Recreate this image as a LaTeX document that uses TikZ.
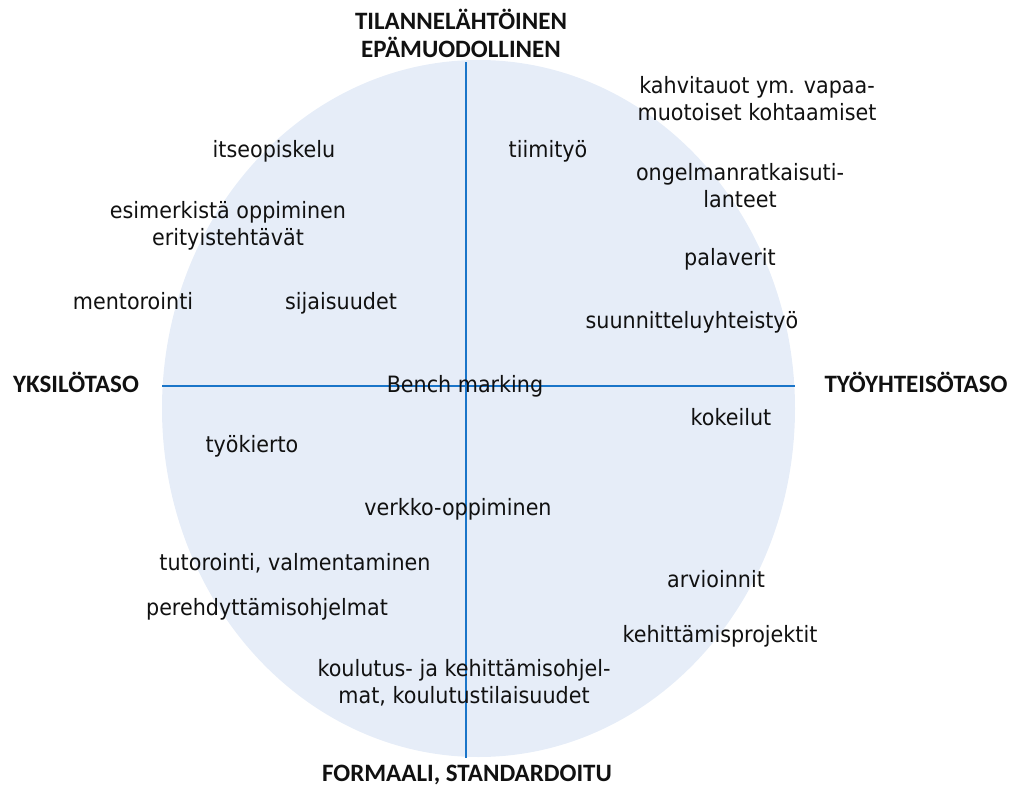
\documentclass[tikz,border=0pt]{standalone}
\usepackage{fontspec}
\setmainfont{DejaVu Sans}[FakeStretch=0.92]
\newfontfamily\headfont{Carlito}
\definecolor{discfill}{HTML}{E6EDF8}
\definecolor{axisblue}{HTML}{1A75C9}
\definecolor{labeltext}{HTML}{111111}
\newcommand{\topic}[3]{%
  \node[anchor=base, align=center, inner sep=0pt, text=labeltext] (#1) at (#2) {#3};}
\newcommand{\pole}[3]{%
  \node[anchor=base, align=center, inner sep=0pt, text=labeltext,
        font=\headfont\bfseries\fontsize{25}{28}\selectfont] (#1) at (#2) {#3};}

\begin{document}
\begin{tikzpicture}[x=1pt, y=-1pt, font=\fontsize{22.5}{27}\selectfont]
  \useasboundingbox (0,0) rectangle (1013,790);
  \fill[discfill] (478.5,408.5) ellipse [x radius=316.5, y radius=348.5];
  \coordinate (north) at (466,62);
  \coordinate (south) at (466,758);
  \coordinate (west) at (162,386);
  \coordinate (east) at (795,386);
  \draw[axisblue, line width=1.5pt] (north) -- (south);
  \draw[axisblue, line width=1.5pt] (west) -- (east);

  % multi-line nodes sit on the baseline of their last line
  \pole{informal}{461,57}{TILANNELÄHTÖINEN\\EPÄMUODOLLINEN}
  \pole{individual}{76,392}{YKSILÖTASO}
  \pole{community}{916,392}{TYÖYHTEISÖTASO}
  \pole{formal}{467,781}{FORMAALI, STANDARDOITU}

  \topic{selfstudy}{274,157}{itseopiskelu}
  \topic{teamwork}{548,157}{tiimityö}
  \topic{breaks}{757,120}{kahvitauot ym. vapaa-\\muotoiset kohtaamiset}
  \topic{problems}{740,207}{ongelmanratkaisuti-\\lanteet}
  \topic{example}{228,245}{esimerkistä oppiminen\\erityistehtävät}
  \topic{meetings}{730,265}{palaverit}
  \topic{mentoring}{133,309}{mentorointi}
  \topic{substitute}{341,309}{sijaisuudet}
  \topic{planning}{692,328}{suunnitteluyhteistyö}
  \topic{bench}{465,392}{Bench marking}
  \topic{trials}{731,425}{kokeilut}
  \topic{rotation}{252,452}{työkierto}
  \topic{online}{458,515}{verkko-oppiminen}
  \topic{tutoring}{295,570}{tutorointi, valmentaminen}
  \topic{reviews}{716,587}{arvioinnit}
  \topic{induction}{267,615}{perehdyttämisohjelmat}
  \topic{projects}{720,642}{kehittämisprojektit}
  \topic{training}{464,703}{koulutus- ja kehittämisohjel-\\mat, koulutustilaisuudet}
\end{tikzpicture}
\end{document}
